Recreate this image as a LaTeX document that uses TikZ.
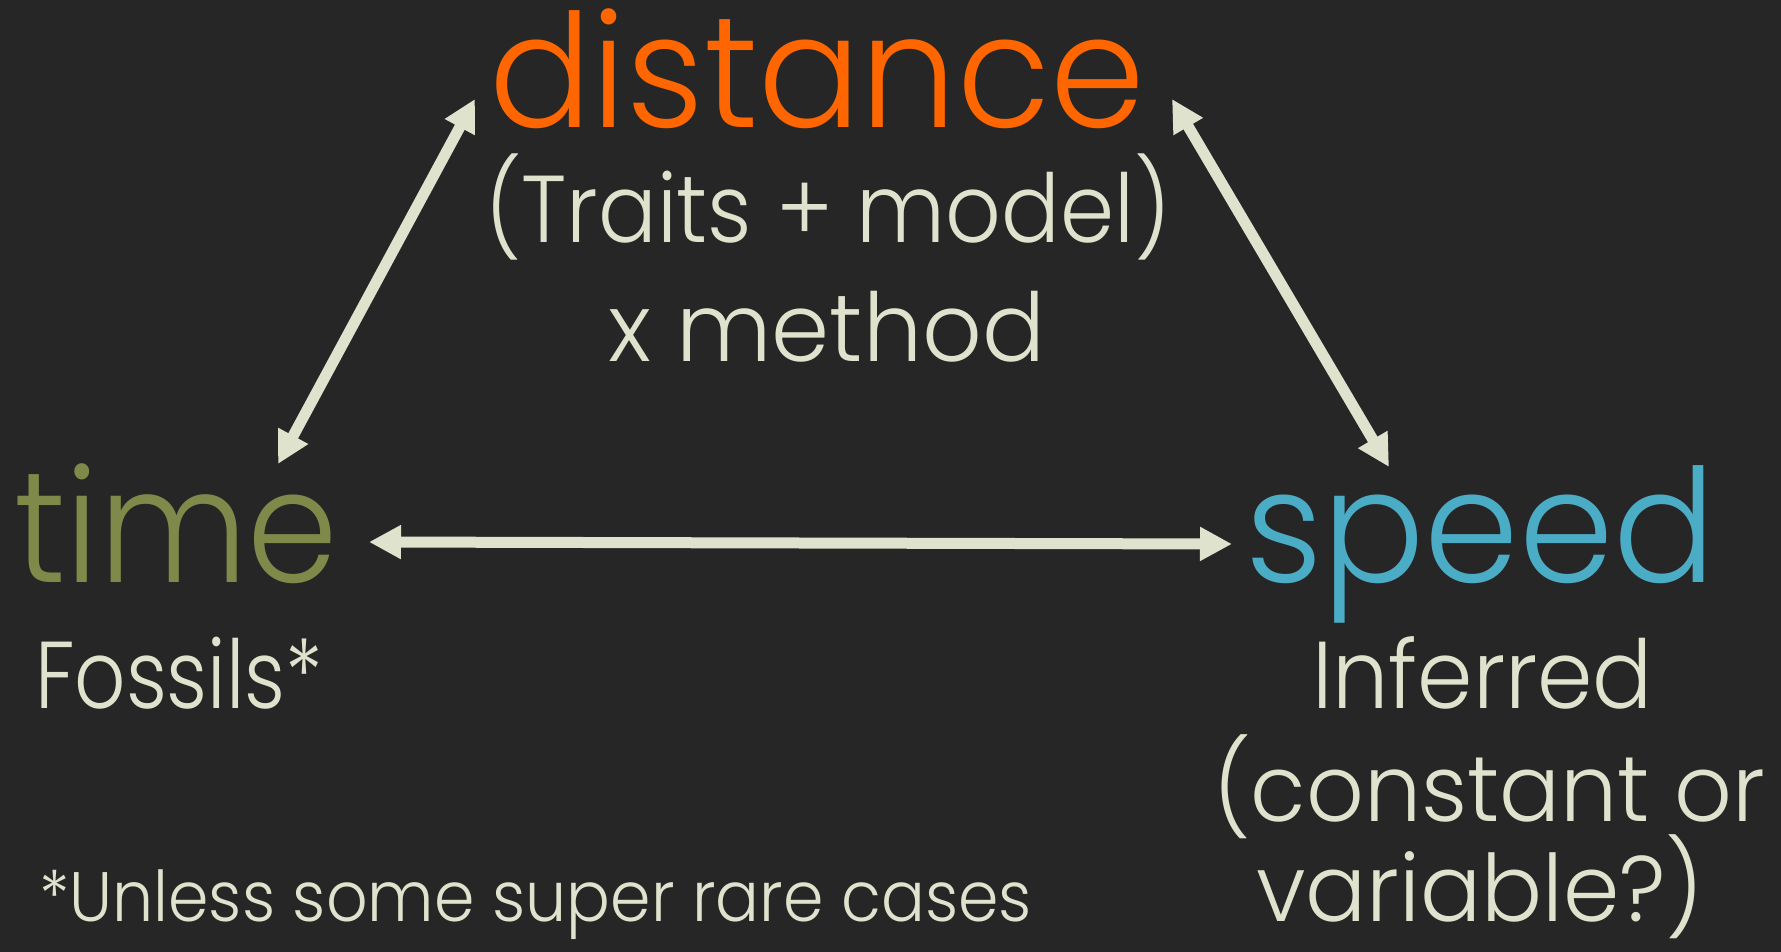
\documentclass[tikz,border=0pt]{standalone}
\usepackage{fontspec}
\usepackage{graphicx}
\IfFontExistsTF{Poppins Light}{\setmainfont{Poppins Light}}{%
  \IfFontExistsTF{Poppins-Light}{\setmainfont{Poppins-Light}}{\setmainfont{Poppins}}}
\usetikzlibrary{arrows.meta}
\definecolor{bgc}{HTML}{262626}
\definecolor{orangec}{HTML}{FF6600}
\definecolor{olivec}{HTML}{7F8A4A}
\definecolor{bluec}{HTML}{4BACC6}
\definecolor{creamc}{HTML}{DFE2CC}
\newcommand\fittext[3]{\resizebox{#1pt}{\height}{\fontsize{#2}{#2}\selectfont #3}}
\begin{document}
\begin{tikzpicture}[x=1pt,y=-1pt,
  lbl/.style={inner sep=0pt, outer sep=0pt, anchor=base west, text=creamc},
  link/.style={draw=creamc, line width=11pt, {Triangle[length=32pt,width=32pt]}-{Triangle[length=32pt,width=32pt]}}]
\useasboundingbox (0,0) rectangle (1781,952);
\fill[bgc] (0,0) rectangle (1781,952);
% main words
\node[lbl, text=orangec] (distance) at (489,128) {\fittext{656}{158}{distance}};
\node[lbl, text=olivec] (time) at (14,582) {\fittext{324}{158}{time}};
\node[lbl, text=bluec] (speed) at (1245,582) {\fittext{471}{158}{speed}};
% sub texts
\node[lbl] (traits) at (485,243) {\fittext{686}{95}{(Traits + model)}};
\node[lbl] (method) at (608,361) {\fittext{437}{95}{x method}};
\node[lbl] (fossils) at (35,708) {\fittext{288}{95}{Fossils*}};
\node[lbl] (inferred) at (1312,708) {\fittext{341}{95}{Inferred}};
\node[lbl] (constant) at (1213,821) {\fittext{552}{93}{(constant or}};
\node[lbl] (variable) at (1256,921) {\fittext{448}{93}{variable?)}};
\node[lbl] (note) at (39,921) {\fittext{993}{70}{*Unless some super rare cases}};
% arrow end points
\coordinate (dL) at (475,99);
\coordinate (tT) at (278,464);
\coordinate (dR) at (1172,99);
\coordinate (sT) at (1389,467);
\coordinate (tR) at (369,542);
\coordinate (sL) at (1232,544);
\draw[link] (dL) -- (tT);
\draw[link] (dR) -- (sT);
\draw[link] (tR) -- (sL);
\end{tikzpicture}
\end{document}
